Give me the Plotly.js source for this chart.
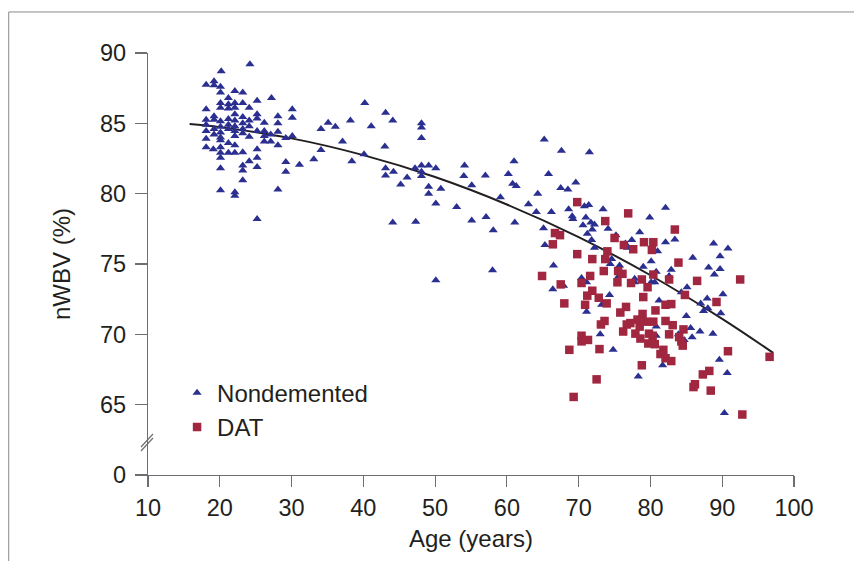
<!DOCTYPE html>
<html>
<head>
<meta charset="utf-8">
<script src="https://cdn.plot.ly/plotly-3.0.1.min.js"></script>
<style>html,body{margin:0;padding:0;background:#fff;}#chart{width:854px;height:561px;}</style>
</head>
<body>
<div id="chart"></div>
<script>
// Nondemented (triangles)
const ndAge = [
24.2,20.2,18.1,19.2,19.2,20.1,20.1,22.1,23.2,27.2,21.2,25.2,18.1,20.1,20.1,21.2,21.2,22.1,22.1,23.2,24.1,30.1,30.1,28.1,28.1,25.2,25.2,26.2,19.2,19.2,
18.1,18.1,18.1,18.1,19.2,19.2,20.1,20.1,20.1,20.1,20.1,20.1,20.1,21.2,21.2,21.2,21.2,22.1,22.1,22.1,22.1,22.1,22.1,23.2,23.2,23.2,23.2,24.1,24.1,25.2,
26.2,26.2,26.2,27.1,27.1,28.1,28.1,29.2,30.1,19.1,23.2,25.2,25.2,24.1,25.2,23.2,23.2,20.1,23.2,29.2,29.2,31.1,20.1,22.1,22.1,28.1,25.2,20.1,21.2,22.1,24.1,18.1,
33.1,34.1,34.1,35.1,36.1,37.1,38.2,38.4,40.2,40.1,41.1,43.1,44.1,43.0,43.1,43.1,44.2,45.2,46.1,44.1,47.3,48.1,48.1,48.1,47.2,48.1,48.1,48.1,49.1,50.1,
49.1,49.1,50.8,50.1,50.1,53.0,54.1,54.0,55.1,55.1,57.0,57.1,58.1,58.0,59.1,60.2,61.0,60.8,61.3,61.1,
65.2,67.6,71.5,65.8,67.5,68.5,69.6,64.3,63.0,64.1,66.2,65.1,65.3,66.5,68.6,69.1,69.2,70.8,71.4,71.0,70.6,71.7,72.2,71.9,73.4,71.2,74.1,71.8,72.2,75.2,
76.5,76.8,77.4,78.5,79.9,81.0,74.6,74.4,80.1,79.0,75.7,75.6,80.8,70.4,71.1,77.8,77.8,80.1,80.6,
66.4,67.9,74.3,73.2,71.1,73.0,74.8,78.3,81.2,80.8,80.8,
82.1,82.1,83.4,88.8,90.8,89.7,85.9,82.9,88.1,89.7,88.9,82.6,85.1,84.3,90.1,
87.9,87.0,87.4,88.0,89.8,85.0,85.6,86.9,88.7,83.9,85.8,84.7,89.6,90.7,81.7,90.3
];
const ndWBV = [
89.2,88.7,87.75,88.0,87.7,87.6,87.2,87.3,87.2,86.8,86.8,86.6,86.0,86.45,86.1,86.35,86.05,86.45,86.1,86.45,86.1,86.0,85.4,85.5,85.0,85.65,85.35,85.05,85.5,85.25,
84.9,84.45,83.9,83.3,84.6,84.2,85.15,84.75,84.35,83.8,83.3,82.9,82.55,85.3,84.6,83.6,82.9,85.65,85.2,84.8,84.1,83.45,82.9,85.45,85.0,84.6,84.3,84.8,84.05,84.45,
84.45,84.1,83.7,84.2,83.7,84.4,83.45,83.95,84.1,83.15,82.95,83.15,82.55,82.3,81.9,82.0,81.65,81.8,80.95,82.25,81.55,82.05,80.25,80.1,79.85,80.3,78.2,84.0,84.9,84.45,85.2,85.25,
82.45,83.1,84.6,85.05,84.75,83.7,85.2,82.3,86.45,82.8,84.8,85.75,85.2,83.35,81.8,81.3,81.55,80.65,81.15,77.95,78.0,85.0,84.7,83.95,81.8,82.0,81.55,81.25,82.0,81.8,
80.5,80.0,80.35,79.3,73.85,79.05,82.0,81.25,80.6,78.1,81.3,78.35,77.4,74.55,79.75,81.4,82.3,80.7,80.55,77.95,
83.85,83.05,82.95,81.4,80.4,80.3,80.8,80.0,79.25,78.7,78.7,77.55,76.35,74.9,78.9,78.4,78.2,79.1,79.2,78.3,77.75,77.95,77.8,77.45,78.9,77.15,77.5,76.7,76.15,77.05,
76.45,76.15,76.7,77.25,78.3,75.9,75.35,75.0,75.2,74.8,74.9,74.15,74.45,74.0,73.7,73.95,73.7,73.7,73.7,
73.2,73.45,72.8,72.1,71.6,70.0,68.9,67.0,72.4,70.55,69.9,
79.0,76.55,76.75,76.45,76.1,75.55,75.45,74.6,74.75,74.65,74.25,74.15,73.35,73.0,72.85,
72.55,72.2,71.65,71.85,71.5,71.3,70.45,70.2,70.05,70.0,69.8,69.6,68.2,67.25,67.8,64.4
];
// DAT (squares)
const datAge = [
69.8,76.9,73.7,66.7,67.4,66.4,75.0,76.3,77.6,79.1,80.4,80.2,69.8,74.0,71.9,73.7,73.5,75.5,76.1,71.6,64.9,78.8,80.4,67.5,70.4,75.4,77.3,
71.9,71.2,72.8,73.9,68.0,70.9,79.0,79.6,76.6,75.8,78.9,80.7,78.2,77.2,76.7,73.6,73.1,79.3,80.4,78.5,76.2,77.9,79.8,78.6,80.3,70.4,71.3,70.4,79.7,80.6,68.7,72.9,78.8,72.5,69.3,
83.4,83.9,82.6,86.5,92.5,
84.8,89.2,82.1,82.9,82.1,83.1,84.6,82.6,84.0,84.3,84.5,81.8,81.4,90.8,96.6,82.1,82.9,88.2,87.3,86.2,86.0,88.4,92.8
];
const datWBV = [
79.4,78.6,78.05,77.2,77.05,76.4,76.85,76.35,76.05,76.55,76.55,76.0,75.7,75.9,75.35,75.35,74.5,74.5,74.3,74.15,74.15,73.9,74.25,73.55,73.65,73.7,73.65,
73.1,72.75,72.6,72.2,72.2,72.1,72.65,73.35,71.95,71.55,71.45,71.7,71.05,70.8,70.7,70.95,70.7,70.9,70.9,70.55,70.2,70.05,70.05,69.7,69.9,69.9,69.6,69.5,69.35,69.3,68.9,68.95,67.8,66.8,65.55,
77.45,75.1,73.9,73.8,73.9,
72.8,72.3,72.1,72.15,70.95,70.65,70.35,70.0,69.8,69.5,69.2,68.9,68.6,68.8,68.4,68.3,68.1,67.4,67.15,66.45,66.25,66.0,64.3
];
// Fitted curve, values
const fitAge = [15.8, 20, 30, 40, 50, 60, 70, 80, 90, 97.1];
const fitWBV = [84.95, 84.73, 83.93, 82.74, 81.18, 79.23, 76.91, 74.2, 71.1, 68.68];

const xTicks = [10, 20, 30, 40, 50, 60, 70, 80, 90, 100];
const yTickVals = [60, 65, 70, 75, 80, 85, 90];
const yTickText = ['0', '65', '70', '75', '80', '85', '90'];

const FONT = 'Liberation Sans, Arial, Helvetica, sans-serif';
const TXT = '#231f20';
const AX = '#6d6e71';

const traces = [
  {x: fitAge, y: fitWBV, mode: 'lines', type: 'scatter', line: {color: '#231f20', width: 2, shape: 'spline'}, showlegend: false, hoverinfo: 'skip'},
  {x: ndAge, y: ndWBV, mode: 'markers', type: 'scatter', name: 'Nondemented',
   marker: {symbol: 'triangle-up', size: 8, color: '#2b2f8f'}},
  {x: datAge, y: datWBV, mode: 'markers', type: 'scatter', name: 'DAT',
   marker: {symbol: 'square', size: 8.5, color: '#a1263f'}}
];

const layout = {
  width: 854, height: 561,
  margin: {l: 148, r: 60, t: 53, b: 86, pad: 0},
  paper_bgcolor: '#ffffff', plot_bgcolor: '#ffffff',
  font: {family: FONT, color: TXT, size: 24},
  xaxis: {
    range: [10, 100], tickvals: xTicks, ticks: 'outside', ticklen: 11, tickwidth: 1.2, tickcolor: AX,
    showline: true, linecolor: AX, linewidth: 1.2, showgrid: false, zeroline: false,
    tickfont: {size: 23.5, color: TXT}, ticklabelstandoff: 1,
    title: {text: 'Age (years)', font: {size: 24, color: TXT}, standoff: 9}
  },
  yaxis: {
    range: [60, 90], tickvals: yTickVals, ticktext: yTickText, ticks: 'outside', ticklen: 12, tickwidth: 1.2, tickcolor: AX,
    showline: true, linecolor: AX, linewidth: 1.2, showgrid: false, zeroline: false,
    tickfont: {size: 23.5, color: TXT}, ticklabelstandoff: 4,
    title: {text: 'nWBV (%)', font: {size: 24, color: TXT}, standoff: 22}
  },
  showlegend: true,
  legend: {x: 0.045, y: 0.247, xanchor: 'left', yanchor: 'top', bgcolor: 'rgba(0,0,0,0)',
           font: {size: 24, color: TXT}, tracegroupgap: 0, itemsizing: 'trace'},
  shapes: [
    {type: 'line', xref: 'paper', yref: 'paper', x0: -0.2156, x1: -0.2156, y0: -0.3, y1: 1.0972, line: {color: '#8a8a8a', width: 1}},
    {type: 'line', xref: 'paper', yref: 'paper', x0: -0.2156, x1: 1.2, y0: 1.0972, y1: 1.0972, line: {color: '#8a8a8a', width: 1}},
    {type: 'line', xref: 'paper', yref: 'paper', x0: -0.0108, x1: 0.0077, y0: 0.0569, y1: 0.0877, line: {color: AX, width: 1.2}},
    {type: 'line', xref: 'paper', yref: 'paper', x0: -0.0108, x1: 0.0077, y0: 0.0664, y1: 0.0972, line: {color: AX, width: 1.2}}
  ]
};

Plotly.newPlot('chart', traces, layout, {displayModeBar: false, staticPlot: true});
</script>
</body>
</html>
